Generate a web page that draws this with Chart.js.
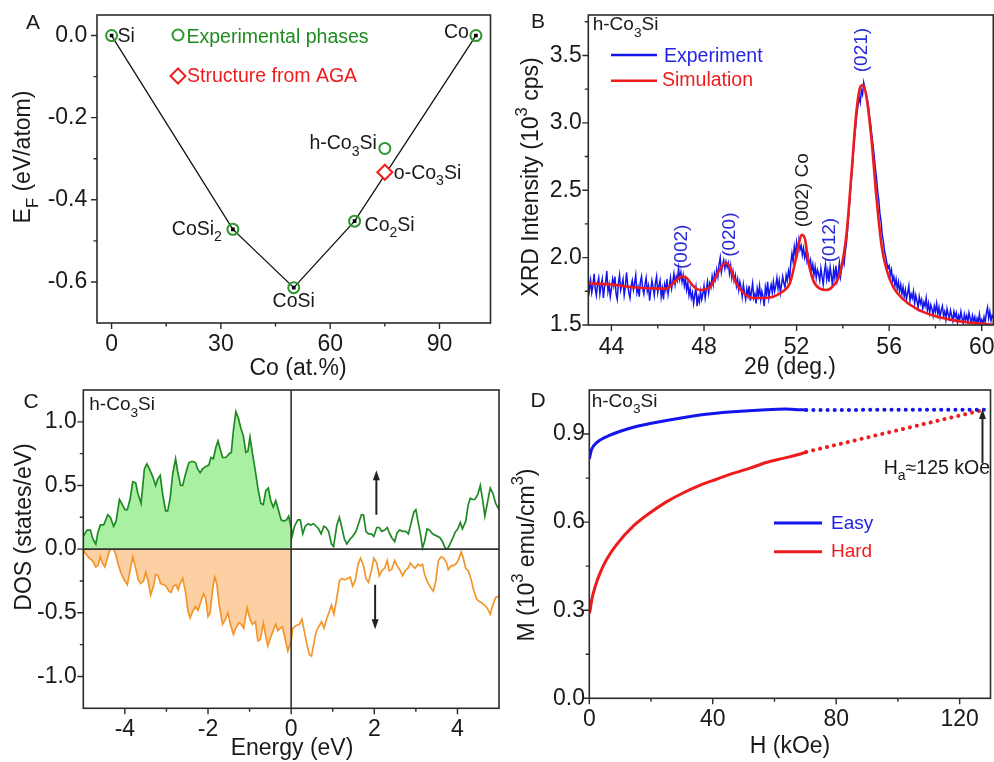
<!DOCTYPE html>
<html>
<head>
<meta charset="utf-8">
<script src="https://cdn.jsdelivr.net/npm/chart.js@4.4.0/dist/chart.umd.min.js"></script>
<style>
  body { margin: 0; background: #fff; width: 994px; height: 762px; position: relative; overflow: hidden; }
  canvas { position: absolute; }
  #phaseChart { left: 0; top: 0; }
  #xrdChart { left: 500px; top: 0; }
  #dosChart { left: 0; top: 382px; }
  #magChart { left: 500px; top: 382px; }
</style>
</head>
<body>
<canvas id="phaseChart" width="500" height="382"></canvas>
<canvas id="xrdChart" width="494" height="382"></canvas>
<canvas id="dosChart" width="500" height="380"></canvas>
<canvas id="magChart" width="494" height="380"></canvas>
<script>
const FONT = '"Liberation Sans", Arial, Helvetica, sans-serif';
const INK = '#1a1a1a';

// ---- A: formation energy vs Co content
const coContent = [0, 33.3, 50, 66.7, 100];
const formationEnergy = [0, -0.472, -0.614, -0.452, 0];
const co3siContent = [75];
const hexCo3siEnergy = [-0.275];
const orthoCo3siEnergy = [-0.333];
const phaseXMajor = [0, 30, 60, 90], phaseXMinor = [15, 45, 75];
const phaseYMajor = [0, -0.2, -0.4, -0.6], phaseYMinor = [-0.1, -0.3, -0.5];

// ---- B: XRD pattern (2theta in deg, intensity in 10^3 cps)
const scanAngle = [
  43.00, 43.05, 43.10, 43.15, 43.20, 43.25, 43.30, 43.35, 43.40, 43.45,
  43.50, 43.55, 43.60, 43.65, 43.70, 43.75, 43.80, 43.85, 43.90, 43.95,
  44.00, 44.05, 44.10, 44.15, 44.20, 44.25, 44.30, 44.35, 44.40, 44.45,
  44.50, 44.55, 44.60, 44.65, 44.70, 44.75, 44.80, 44.85, 44.90, 44.95,
  45.00, 45.05, 45.10, 45.15, 45.20, 45.25, 45.30, 45.35, 45.40, 45.45,
  45.50, 45.55, 45.60, 45.65, 45.70, 45.75, 45.80, 45.85, 45.90, 45.95,
  46.00, 46.05, 46.10, 46.15, 46.20, 46.25, 46.30, 46.35, 46.40, 46.45,
  46.50, 46.55, 46.60, 46.65, 46.70, 46.75, 46.80, 46.85, 46.90, 46.95,
  47.00, 47.05, 47.10, 47.15, 47.20, 47.25, 47.30, 47.35, 47.40, 47.45,
  47.50, 47.55, 47.60, 47.65, 47.70, 47.75, 47.80, 47.85, 47.90, 47.95,
  48.00, 48.05, 48.10, 48.15, 48.20, 48.25, 48.30, 48.35, 48.40, 48.45,
  48.50, 48.55, 48.60, 48.65, 48.70, 48.75, 48.80, 48.85, 48.90, 48.95,
  49.00, 49.05, 49.10, 49.15, 49.20, 49.25, 49.30, 49.35, 49.40, 49.45,
  49.50, 49.55, 49.60, 49.65, 49.70, 49.75, 49.80, 49.85, 49.90, 49.95,
  50.00, 50.05, 50.10, 50.15, 50.20, 50.25, 50.30, 50.35, 50.40, 50.45,
  50.50, 50.55, 50.60, 50.65, 50.70, 50.75, 50.80, 50.85, 50.90, 50.95,
  51.00, 51.05, 51.10, 51.15, 51.20, 51.25, 51.30, 51.35, 51.40, 51.45,
  51.50, 51.55, 51.60, 51.65, 51.70, 51.75, 51.80, 51.85, 51.90, 51.95,
  52.00, 52.05, 52.10, 52.15, 52.20, 52.25, 52.30, 52.35, 52.40, 52.45,
  52.50, 52.55, 52.60, 52.65, 52.70, 52.75, 52.80, 52.85, 52.90, 52.95,
  53.00, 53.05, 53.10, 53.15, 53.20, 53.25, 53.30, 53.35, 53.40, 53.45,
  53.50, 53.55, 53.60, 53.65, 53.70, 53.75, 53.80, 53.85, 53.90, 53.95,
  54.00, 54.05, 54.10, 54.15, 54.20, 54.25, 54.30, 54.35, 54.40, 54.45,
  54.50, 54.55, 54.60, 54.65, 54.70, 54.75, 54.80, 54.85, 54.90, 54.95,
  55.00, 55.05, 55.10, 55.15, 55.20, 55.25, 55.30, 55.35, 55.40, 55.45,
  55.50, 55.55, 55.60, 55.65, 55.70, 55.75, 55.80, 55.85, 55.90, 55.95,
  56.00, 56.05, 56.10, 56.15, 56.20, 56.25, 56.30, 56.35, 56.40, 56.45,
  56.50, 56.55, 56.60, 56.65, 56.70, 56.75, 56.80, 56.85, 56.90, 56.95,
  57.00, 57.05, 57.10, 57.15, 57.20, 57.25, 57.30, 57.35, 57.40, 57.45,
  57.50, 57.55, 57.60, 57.65, 57.70, 57.75, 57.80, 57.85, 57.90, 57.95,
  58.00, 58.05, 58.10, 58.15, 58.20, 58.25, 58.30, 58.35, 58.40, 58.45,
  58.50, 58.55, 58.60, 58.65, 58.70, 58.75, 58.80, 58.85, 58.90, 58.95,
  59.00, 59.05, 59.10, 59.15, 59.20, 59.25, 59.30, 59.35, 59.40, 59.45,
  59.50, 59.55, 59.60, 59.65, 59.70, 59.75, 59.80, 59.85, 59.90, 59.95,
  60.00, 60.05, 60.10, 60.15, 60.20, 60.25, 60.30, 60.35, 60.40, 60.45,
  60.50
];
const measuredCounts = [
  1.86, 1.76, 1.83, 1.74, 1.79, 1.88, 1.77, 1.72, 1.81, 1.85,
  1.73, 1.79, 1.84, 1.70, 1.78, 1.82, 1.90, 1.75, 1.80, 1.71,
  1.77, 1.84, 1.79, 1.86, 1.73, 1.69, 1.81, 1.87, 1.76, 1.80,
  1.84, 1.72, 1.78, 1.89, 1.80, 1.74, 1.70, 1.79, 1.83, 1.76,
  1.81, 1.87, 1.74, 1.78, 1.71, 1.82, 1.86, 1.77, 1.73, 1.80,
  1.85, 1.75, 1.79, 1.68, 1.76, 1.83, 1.78, 1.72, 1.81, 1.86,
  1.74, 1.79, 1.83, 1.71, 1.77, 1.69, 1.80, 1.76, 1.84, 1.73,
  1.79, 1.85, 1.77, 1.82, 1.88, 1.80, 1.86, 1.83, 1.92, 1.84,
  1.89, 1.82, 1.87, 1.79, 1.84, 1.76, 1.81, 1.72, 1.77, 1.70,
  1.74, 1.66, 1.72, 1.78, 1.64, 1.71, 1.67, 1.75, 1.69, 1.73,
  1.79, 1.70, 1.76, 1.82, 1.74, 1.81, 1.78, 1.86, 1.80, 1.88,
  1.84, 1.91, 1.86, 1.95, 2.00, 1.89, 1.94, 1.98, 1.92, 1.97,
  1.93, 1.96, 1.88, 1.94, 1.85, 1.90, 1.83, 1.87, 1.79, 1.84,
  1.76, 1.82, 1.78, 1.71, 1.80, 1.74, 1.69, 1.77, 1.72, 1.79,
  1.68, 1.75, 1.81, 1.70, 1.73, 1.66, 1.77, 1.72, 1.79, 1.69,
  1.75, 1.71, 1.64, 1.78, 1.73, 1.82, 1.70, 1.76, 1.80, 1.74,
  1.82, 1.75, 1.79, 1.85, 1.77, 1.83, 1.74, 1.80, 1.86, 1.81,
  1.78, 1.87, 1.83, 1.90, 1.85, 1.96, 2.03, 1.97, 2.08, 2.02,
  2.11, 2.04, 2.13, 2.06, 2.09, 2.02, 2.07, 2.00, 2.04, 1.97,
  2.01, 1.94, 1.98, 1.90, 1.95, 1.87, 1.93, 1.85, 1.91, 1.88,
  1.83, 1.92, 1.86, 1.80, 1.89, 1.95, 1.84, 1.90, 1.82, 1.93,
  1.87, 1.79, 1.91, 1.85, 1.94, 1.83, 1.89, 1.96, 1.86, 1.92,
  1.98, 1.95, 2.04, 2.10, 2.20, 2.31, 2.42, 2.55, 2.64, 2.77,
  2.88, 2.97, 3.06, 3.12, 3.19, 3.15, 3.24, 3.21, 3.30, 3.26,
  3.22, 3.18, 3.13, 3.05, 2.99, 2.91, 2.84, 2.76, 2.67, 2.60,
  2.50, 2.43, 2.33, 2.27, 2.17, 2.12, 2.05, 2.01, 1.96, 1.92,
  1.94, 1.87, 1.91, 1.83, 1.86, 1.79, 1.84, 1.77, 1.82, 1.75,
  1.80, 1.73, 1.78, 1.71, 1.76, 1.69, 1.74, 1.79, 1.68, 1.73,
  1.70, 1.75, 1.66, 1.72, 1.68, 1.63, 1.71, 1.66, 1.69, 1.62,
  1.67, 1.64, 1.70, 1.61, 1.66, 1.59, 1.65, 1.62, 1.57, 1.64,
  1.60, 1.66, 1.58, 1.63, 1.56, 1.61, 1.64, 1.57, 1.60, 1.54,
  1.62, 1.58, 1.55, 1.61, 1.57, 1.53, 1.60, 1.56, 1.59, 1.52,
  1.57, 1.54, 1.60, 1.55, 1.51, 1.58, 1.54, 1.57, 1.52, 1.59,
  1.55, 1.51, 1.57, 1.53, 1.56, 1.50, 1.55, 1.52, 1.58, 1.51,
  1.54, 1.51, 1.56, 1.52, 1.59, 1.63, 1.55, 1.60, 1.53, 1.57,
  1.55
];
const simAngle = [
  43.0, 44.0, 44.94, 45.94, 46.38, 46.67, 47.03, 47.24, 47.53, 47.82,
  48.25, 48.61, 48.80, 48.97, 49.12, 49.33, 49.69, 50.13, 50.56, 50.99,
  51.42, 51.71, 51.93, 52.07, 52.22, 52.36, 52.50, 52.72, 53.01, 53.30,
  53.58, 53.87, 54.16, 54.37, 54.59, 54.76, 54.88, 55.03, 55.24, 55.46,
  55.68, 55.89, 56.18, 56.61, 57.19, 57.91, 58.63, 59.35, 60.0, 60.5
];
const simCounts = [
  1.81, 1.80, 1.78, 1.77, 1.77, 1.81, 1.86, 1.85, 1.79, 1.76,
  1.78, 1.89, 1.94, 1.96, 1.93, 1.83, 1.74, 1.70, 1.70, 1.71,
  1.75, 1.81, 1.96, 2.08, 2.17, 2.14, 1.98, 1.83, 1.77, 1.76,
  1.79, 1.88, 2.18, 2.62, 3.09, 3.27, 3.28, 3.18, 2.87, 2.43,
  2.08, 1.91, 1.78, 1.69, 1.62, 1.57, 1.54, 1.52, 1.51, 1.50
];
const peakAngle = [47.03, 49.1, 52.25, 53.45, 54.83];
const peakLabelLevel = [2.08, 2.17, 2.50, 2.13, 3.54];
const peakIndex = ['(002)', '(020)', '(002) Co', '(012)', '(021)'];
const xrdXMajor = [44, 48, 52, 56, 60], xrdXMinor = [46, 50, 54, 58];
const xrdYMajor = [1.5, 2.0, 2.5, 3.0, 3.5], xrdYMinor = [1.75, 2.25, 2.75, 3.25, 3.75];

// ---- C: spin-resolved DOS (eV, states/eV)
const upEnergy = [
  -5.00, -4.91, -4.83, -4.77, -4.70, -4.65, -4.59, -4.51, -4.41, -4.35,
  -4.27, -4.21, -4.13, -4.06, -4.00, -3.94, -3.87, -3.81, -3.74, -3.69,
  -3.61, -3.53, -3.47, -3.41, -3.33, -3.26, -3.21, -3.15, -3.09, -3.02,
  -2.97, -2.91, -2.85, -2.78, -2.73, -2.66, -2.61, -2.54, -2.46, -2.38,
  -2.30, -2.25, -2.19, -2.13, -2.05, -1.98, -1.93, -1.87, -1.81, -1.76,
  -1.71, -1.65, -1.57, -1.49, -1.44, -1.39, -1.33, -1.27, -1.21, -1.15,
  -1.09, -1.04, -0.99, -0.93, -0.86, -0.80, -0.73, -0.67, -0.61, -0.55,
  -0.49, -0.43, -0.37, -0.30, -0.24, -0.18, -0.11, -0.06, 0.00,
  0.03, 0.08, 0.16, 0.22, 0.28, 0.34, 0.41, 0.47, 0.54, 0.60,
  0.66, 0.72, 0.79, 0.84, 0.90, 0.97, 1.02, 1.10, 1.16, 1.22,
  1.28, 1.34, 1.42, 1.48, 1.56, 1.64, 1.69, 1.74, 1.80, 1.86,
  1.93, 1.99, 2.06, 2.12, 2.18, 2.25, 2.31, 2.36, 2.42, 2.49,
  2.55, 2.61, 2.68, 2.76, 2.82, 2.89, 2.95, 3.00, 3.05, 3.11,
  3.16, 3.21, 3.27, 3.33, 3.40, 3.46, 3.53, 3.58, 3.64, 3.70,
  3.76, 3.82, 3.88, 3.94, 4.01, 4.07, 4.12, 4.20, 4.26, 4.31,
  4.36, 4.42, 4.49, 4.55, 4.60, 4.66, 4.73, 4.79, 4.85, 4.92, 5.00
];
const upDos = [
  0.10, 0.15, 0.15, 0.08, 0.04, 0.13, 0.19, 0.19, 0.27, 0.25,
  0.18, 0.22, 0.39, 0.35, 0.31, 0.31, 0.40, 0.53, 0.52, 0.44,
  0.36, 0.63, 0.67, 0.63, 0.57, 0.50, 0.55, 0.58, 0.43, 0.30,
  0.30, 0.40, 0.59, 0.71, 0.61, 0.50, 0.50, 0.59, 0.68, 0.69,
  0.68, 0.63, 0.60, 0.63, 0.65, 0.66, 0.72, 0.71, 0.80, 0.85,
  0.79, 0.72, 0.72, 0.75, 0.76, 0.93, 1.08, 1.03, 0.95, 0.89,
  0.76, 0.77, 0.88, 0.75, 0.61, 0.48, 0.36, 0.35, 0.46, 0.48,
  0.38, 0.33, 0.38, 0.30, 0.23, 0.22, 0.23, 0.26, 0.17,
  0.11, 0.18, 0.23, 0.23, 0.12, 0.18, 0.20, 0.19, 0.20, 0.18,
  0.16, 0.12, 0.18, 0.17, 0.14, 0.04, 0.02, 0.19, 0.25, 0.17,
  0.08, 0.04, 0.08, 0.10, 0.14, 0.22, 0.27, 0.27, 0.14, 0.12,
  0.12, 0.10, 0.17, 0.17, 0.14, 0.15, 0.17, 0.13, 0.09, 0.06,
  0.13, 0.15, 0.14, 0.14, 0.12, 0.21, 0.29, 0.31, 0.22, 0.12,
  0.01, 0.06, 0.16, 0.15, 0.12, 0.11, 0.10, 0.09, 0.06, 0.01,
  0.00, 0.04, 0.08, 0.13, 0.16, 0.21, 0.16, 0.22, 0.35, 0.40,
  0.39, 0.39, 0.43, 0.50, 0.40, 0.26, 0.38, 0.48, 0.44, 0.36, 0.31
];
const downEnergy = [
  -5.00, -4.93, -4.86, -4.78, -4.70, -4.65, -4.59, -4.54, -4.48, -4.42,
  -4.37, -4.32, -4.27, -4.22, -4.16, -4.09, -4.02, -3.94, -3.87, -3.81,
  -3.74, -3.68, -3.62, -3.55, -3.50, -3.44, -3.38, -3.31, -3.26, -3.20,
  -3.14, -3.07, -3.01, -2.94, -2.89, -2.83, -2.77, -2.72, -2.67, -2.61,
  -2.54, -2.48, -2.43, -2.37, -2.30, -2.24, -2.18, -2.11, -2.06, -2.00,
  -1.95, -1.89, -1.84, -1.79, -1.73, -1.65, -1.58, -1.52, -1.46, -1.39,
  -1.33, -1.26, -1.20, -1.14, -1.06, -0.99, -0.93, -0.86, -0.80, -0.74,
  -0.67, -0.62, -0.56, -0.50, -0.42, -0.37, -0.32, -0.26, -0.21, -0.14,
  -0.08, -0.03, 0.00,
  0.04, 0.12, 0.20, 0.26, 0.32, 0.38, 0.44, 0.49, 0.54, 0.60,
  0.66, 0.73, 0.79, 0.86, 0.92, 0.97, 1.03, 1.10, 1.16, 1.22,
  1.29, 1.35, 1.42, 1.48, 1.54, 1.61, 1.67, 1.74, 1.80, 1.86,
  1.93, 1.99, 2.06, 2.12, 2.18, 2.25, 2.31, 2.36, 2.42, 2.49,
  2.55, 2.61, 2.68, 2.74, 2.81, 2.87, 2.92, 2.98, 3.05, 3.11,
  3.16, 3.21, 3.27, 3.35, 3.42, 3.48, 3.54, 3.61, 3.67, 3.74,
  3.78, 3.85, 3.91, 3.98, 4.04, 4.09, 4.14, 4.20, 4.26, 4.33,
  4.39, 4.46, 4.52, 4.58, 4.65, 4.71, 4.79, 4.85, 4.92, 5.00
];
const downDos = [
  -0.01, -0.04, -0.07, -0.09, -0.14, -0.13, -0.06, -0.11, -0.14, -0.07,
  -0.01, 0.00, 0.00, -0.04, -0.12, -0.19, -0.24, -0.28, -0.16, -0.06,
  -0.15, -0.24, -0.27, -0.25, -0.18, -0.25, -0.36, -0.29, -0.20, -0.21,
  -0.27, -0.28, -0.29, -0.33, -0.34, -0.29, -0.28, -0.32, -0.27, -0.23,
  -0.34, -0.49, -0.54, -0.49, -0.45, -0.48, -0.42, -0.35, -0.38, -0.53,
  -0.50, -0.32, -0.22, -0.27, -0.44, -0.59, -0.55, -0.50, -0.59, -0.67,
  -0.62, -0.58, -0.59, -0.62, -0.46, -0.55, -0.59, -0.57, -0.72, -0.71,
  -0.58, -0.67, -0.76, -0.70, -0.63, -0.59, -0.64, -0.62, -0.61, -0.71,
  -0.80, -0.75, -0.72,
  -0.62, -0.60, -0.59, -0.55, -0.65, -0.75, -0.83, -0.84, -0.75, -0.65,
  -0.61, -0.57, -0.62, -0.54, -0.49, -0.44, -0.51, -0.38, -0.25, -0.23,
  -0.24, -0.23, -0.22, -0.29, -0.25, -0.12, -0.07, -0.13, -0.23, -0.26,
  -0.17, -0.07, -0.11, -0.21, -0.17, -0.15, -0.09, -0.17, -0.16, -0.09,
  -0.13, -0.16, -0.21, -0.17, -0.15, -0.11, -0.13, -0.15, -0.12, -0.13,
  -0.12, -0.20, -0.25, -0.30, -0.33, -0.25, -0.09, -0.06, -0.07, -0.11,
  -0.16, -0.13, -0.13, -0.11, -0.07, -0.02, -0.07, -0.15, -0.17, -0.24,
  -0.32, -0.39, -0.41, -0.42, -0.44, -0.46, -0.51, -0.44, -0.38, -0.37
];
const dosXMajor = [-4, -2, 0, 2, 4], dosXMinor = [-3, -1, 1, 3];
const dosYMajor = [-1, -0.5, 0, 0.5, 1], dosYMinor = [-0.75, -0.25, 0.25, 0.75];

// ---- D: magnetization curves (kOe, 10^3 emu/cm^3)
const easyField = [0, 0.3, 0.8, 2.4, 6.7, 14.3, 25, 35.8, 46.5, 57.3, 63.7, 68.1, 70.3];
const easyM = [0.815, 0.83, 0.849, 0.871, 0.896, 0.923, 0.946, 0.965, 0.976, 0.983, 0.985, 0.983, 0.982];
const hardField = [0, 0.2, 0.8, 1.9, 3.5, 5.6, 8.9, 14.3, 19.7, 25, 30.5, 35.8, 41.2, 46.5, 51.9, 57.3, 62.7, 68.1, 70.3];
const hardM = [0.29, 0.296, 0.336, 0.38, 0.427, 0.473, 0.524, 0.587, 0.632, 0.669, 0.70, 0.725, 0.746, 0.766, 0.783, 0.803, 0.817, 0.831, 0.839];
const extField = [70.3, 128];
const easyExtM = [0.982, 0.983];
const hardExtM = [0.839, 0.983];
const anisotropyField = 127.4;
const magXMajor = [0, 40, 80, 120], magXMinor = [20, 60, 100];
const magYMajor = [0, 0.3, 0.6, 0.9], magYMinor = [0.15, 0.45, 0.75];

// ---------- helpers
function points(xs, ys) {
  return xs.map((v, i) => ({x: v, y: ys[i]}));
}

// parts: [text, shift], shift 1 = subscript, -1 = superscript
function text(ctx, parts, x, y, size, color, align) {
  ctx.save();
  const fontFor = s => (s ? size * 0.72 : size) + 'px ' + FONT;
  const widths = parts.map(p => { ctx.font = fontFor(p[1]); return ctx.measureText(p[0]).width; });
  const total = widths.reduce((a, b) => a + b, 0);
  let cx = align === 'center' ? x - total / 2 : align === 'right' ? x - total : x;
  ctx.fillStyle = color;
  ctx.textAlign = 'left';
  ctx.textBaseline = 'middle';
  parts.forEach((p, i) => {
    ctx.font = fontFor(p[1]);
    const dy = p[1] === 1 ? size * 0.42 : p[1] === -1 ? -size * 0.4 : 0;
    ctx.fillText(p[0], cx, y + dy);
    cx += widths[i];
  });
  ctx.restore();
}

function vtext(ctx, parts, cx, cy, size, color) {
  ctx.save();
  ctx.translate(cx, cy);
  ctx.rotate(-Math.PI / 2);
  text(ctx, parts, 0, 0, size, color, 'center');
  ctx.restore();
}

function arrow(ctx, x, y0, y1) {
  const dir = Math.sign(y1 - y0);
  ctx.save();
  ctx.strokeStyle = ctx.fillStyle = '#222';
  ctx.lineWidth = 2;
  ctx.beginPath();
  ctx.moveTo(x, y0);
  ctx.lineTo(x, y1 - dir * 8);
  ctx.stroke();
  ctx.beginPath();
  ctx.moveTo(x, y1);
  ctx.lineTo(x - 3.5, y1 - dir * 10);
  ctx.lineTo(x + 3.5, y1 - dir * 10);
  ctx.closePath();
  ctx.fill();
  ctx.restore();
}

function legendLine(ctx, x0, x1, y, color, width) {
  ctx.save();
  ctx.strokeStyle = color;
  ctx.lineWidth = width;
  ctx.beginPath();
  ctx.moveTo(x0, y);
  ctx.lineTo(x1, y);
  ctx.stroke();
  ctx.restore();
}

// box around the plot + outward tick marks
const axesFrame = {
  id: 'axesFrame',
  afterDatasetsDraw(chart, args, o) {
    const {ctx, chartArea: a, scales: {x, y}} = chart;
    ctx.save();
    ctx.strokeStyle = '#2b2b2b';
    ctx.lineWidth = 1.6;
    ctx.strokeRect(a.left, a.top, a.right - a.left, a.bottom - a.top);
    ctx.lineWidth = 1.4;
    ctx.beginPath();
    const mark = (vals, len, horiz) => vals.forEach(v => {
      if (horiz) {
        const px = x.getPixelForValue(v);
        ctx.moveTo(px, a.bottom);
        ctx.lineTo(px, a.bottom + len);
      } else {
        const py = y.getPixelForValue(v);
        ctx.moveTo(a.left, py);
        ctx.lineTo(a.left - len, py);
      }
    });
    mark(o.xMajor, 6, true);
    mark(o.xMinor, 3.5, true);
    mark(o.yMajor, 6, false);
    mark(o.yMinor, 3.5, false);
    ctx.stroke();
    ctx.restore();
  }
};

function axis(side, min, max, major, digits, size, pad) {
  return {
    type: 'linear', position: side, min: min, max: max,
    grid: {display: false, drawTicks: false},
    border: {display: false},
    ticks: {
      padding: pad, color: INK, autoSkip: false, maxRotation: 0,
      font: {family: FONT, size: 23},
      callback: v => v.toFixed(digits)
    },
    afterBuildTicks: s => { s.ticks = major.map(v => ({value: v})); },
    afterFit: s => {
      if (side === 'bottom') s.height = size; else s.width = size;
      s.paddingTop = s.paddingBottom = s.paddingLeft = s.paddingRight = 0;
    }
  };
}

function options(top, right, xAxis, yAxis, ticks) {
  return {
    responsive: false,
    animation: false,
    events: [],
    layout: {padding: {top: top, right: right, left: 0, bottom: 0}},
    plugins: {legend: {display: false}, tooltip: {enabled: false}, axesFrame: ticks},
    scales: {x: xAxis, y: yAxis}
  };
}

const GREEN = '#2e962e';
const RED = '#ee1c1c';
const BLUE = '#1414ee';

// ---------- A
new Chart(document.getElementById('phaseChart'), {
  type: 'scatter',
  data: {
    datasets: [{
      data: points(coContent, formationEnergy),
      pointStyle: 'rect', pointRadius: 2.6, pointBackgroundColor: '#000', pointBorderWidth: 0,
      order: 0
    }, {
      data: points(coContent, formationEnergy),
      showLine: true, borderColor: '#111', borderWidth: 1.3,
      pointStyle: 'circle', pointRadius: 5.5, pointBorderColor: GREEN, pointBorderWidth: 2,
      pointBackgroundColor: 'rgba(0,0,0,0)',
      order: 2
    }, {
      data: points(co3siContent, hexCo3siEnergy),
      pointStyle: 'circle', pointRadius: 5.5, pointBorderColor: GREEN, pointBorderWidth: 2,
      pointBackgroundColor: 'rgba(0,0,0,0)',
      order: 2
    }, {
      data: points(co3siContent, orthoCo3siEnergy),
      pointStyle: 'rectRot', pointRadius: 7.5, pointBorderColor: RED, pointBorderWidth: 2,
      pointBackgroundColor: '#fff',
      order: 1
    }]
  },
  options: options(15, 1,
    axis('bottom', -4, 104, phaseXMajor, 0, 59, 8),
    axis('left', -0.70, 0.05, phaseYMajor, 1, 97, 9.7),
    {xMajor: phaseXMajor, xMinor: phaseXMinor, yMajor: phaseYMajor, yMinor: phaseYMinor}),
  plugins: [axesFrame, {
    id: 'phaseLabels',
    afterDraw(chart) {
      const {ctx, scales: {x, y}} = chart;
      const px = i => x.getPixelForValue(coContent[i]);
      const py = i => y.getPixelForValue(formationEnergy[i]);
      const s = 19.5;
      text(ctx, [['A', 0]], 33, 23, 21, INK, 'center');
      text(ctx, [['Si', 0]], px(0) + 6, py(0) + 1.5, s, INK, 'left');
      text(ctx, [['CoSi', 0], ['2', 1]], px(1) - 11, py(1), s, INK, 'right');
      text(ctx, [['CoSi', 0]], px(2), py(2) + 14, s, INK, 'center');
      text(ctx, [['Co', 0], ['2', 1], ['Si', 0]], px(3) + 10, py(3) + 4, s, INK, 'left');
      text(ctx, [['Co', 0]], px(4) - 7, py(4) - 3, s, INK, 'right');
      const cx = x.getPixelForValue(co3siContent[0]);
      text(ctx, [['h-Co', 0], ['3', 1], ['Si', 0]], cx - 8, y.getPixelForValue(hexCo3siEnergy[0]) - 5, s, INK, 'right');
      text(ctx, [['o-Co', 0], ['3', 1], ['Si', 0]], cx + 9, y.getPixelForValue(orthoCo3siEnergy[0]) + 1, s, INK, 'left');

      // legend
      ctx.save();
      ctx.lineWidth = 2;
      ctx.strokeStyle = GREEN;
      ctx.beginPath();
      ctx.arc(178, 35, 5.5, 0, Math.PI * 2);
      ctx.stroke();
      ctx.strokeStyle = RED;
      ctx.beginPath();
      ctx.moveTo(178, 68.5); ctx.lineTo(185.5, 76); ctx.lineTo(178, 83.5); ctx.lineTo(170.5, 76);
      ctx.closePath();
      ctx.stroke();
      ctx.restore();
      text(ctx, [['Experimental phases', 0]], 186.5, 37.5, s, '#1f8c1f', 'left');
      text(ctx, [['Structure from AGA', 0]], 187, 76.5, s, RED, 'left');

      text(ctx, [['Co (at.%)', 0]], 298, 369, 23, INK, 'center');
      vtext(ctx, [['E', 0], ['F', 1], [' (eV/atom)', 0]], 24, 157, 23, INK);
    }
  }]
});

// ---------- B
new Chart(document.getElementById('xrdChart'), {
  type: 'scatter',
  data: {
    datasets: [{
      data: points(simAngle, simCounts),
      showLine: true, borderColor: RED, borderWidth: 2.6, pointRadius: 0,
      cubicInterpolationMode: 'monotone', order: 0
    }, {
      data: points(scanAngle, measuredCounts),
      showLine: true, borderColor: BLUE, borderWidth: 1.5, pointRadius: 0,
      tension: 0, order: 1
    }]
  },
  options: options(15, 0.7,
    axis('bottom', 43, 60.5, xrdXMajor, 0, 57, 8.4),
    axis('left', 1.5, 3.8, xrdYMajor, 1, 88.3, 6.6),
    {xMajor: xrdXMajor, xMinor: xrdXMinor, yMajor: xrdYMajor, yMinor: xrdYMinor}),
  plugins: [axesFrame, {
    id: 'xrdLabels',
    afterDraw(chart) {
      const {ctx, scales: {x, y}} = chart;
      text(ctx, [['B', 0]], 38, 22.5, 21, INK, 'center');
      text(ctx, [['h-Co', 0], ['3', 1], ['Si', 0]], 92.7, 25, 19, INK, 'left');
      legendLine(ctx, 111, 157, 55, BLUE, 2.5);
      text(ctx, [['Experiment', 0]], 164, 57, 19.5, '#2424e6', 'left');
      legendLine(ctx, 111, 157, 80.7, RED, 2.5);
      text(ctx, [['Simulation', 0]], 162, 81, 19.5, RED, 'left');
      peakIndex.forEach((label, i) => {
        const color = label.indexOf('Co') >= 0 ? INK : '#2a2ad8';
        vtext(ctx, [[label, 0]], x.getPixelForValue(peakAngle[i]), y.getPixelForValue(peakLabelLevel[i]), 19, color);
      });
      text(ctx, [['2\u03b8 (deg.)', 0]], 290, 368, 23, INK, 'center');
      vtext(ctx, [['XRD Intensity (10', 0], ['3', -1], [' cps)', 0]], 31.7, 177, 23, INK);
    }
  }]
});

// ---------- C
const upLeft = points(upEnergy, upDos).filter(p => p.x <= 0);
const upRight = points(upEnergy, upDos).filter(p => p.x >= 0);
const downLeft = points(downEnergy, downDos).filter(p => p.x <= 0);
const downRight = points(downEnergy, downDos).filter(p => p.x >= 0);
const DOS_GREEN = '#1f8a24', DOS_ORANGE = '#f2962a';

new Chart(document.getElementById('dosChart'), {
  type: 'scatter',
  data: {
    datasets: [
      {data: upLeft, showLine: true, fill: 'origin', backgroundColor: '#a9f0a2', borderColor: DOS_GREEN, borderWidth: 1.7, pointRadius: 0},
      {data: upRight, showLine: true, borderColor: DOS_GREEN, borderWidth: 1.7, pointRadius: 0},
      {data: downLeft, showLine: true, fill: 'origin', backgroundColor: '#fdd0a4', borderColor: DOS_ORANGE, borderWidth: 1.7, pointRadius: 0},
      {data: downRight, showLine: true, borderColor: DOS_ORANGE, borderWidth: 1.7, pointRadius: 0}
    ]
  },
  options: options(8, 1,
    axis('bottom', -5, 5, dosXMajor, 0, 53.7, 7.1),
    axis('left', -1.25, 1.25, dosYMajor, 1, 83.3, 6.6),
    {xMajor: dosXMajor, xMinor: dosXMinor, yMajor: dosYMajor, yMinor: dosYMinor}),
  plugins: [{
    id: 'zeroLines',
    afterDatasetsDraw(chart) {
      const {ctx, chartArea: a, scales: {x, y}} = chart;
      const x0 = x.getPixelForValue(0), y0 = y.getPixelForValue(0);
      ctx.save();
      ctx.strokeStyle = '#333';
      ctx.lineWidth = 1.6;
      ctx.beginPath();
      ctx.moveTo(a.left, y0); ctx.lineTo(a.right, y0);
      ctx.moveTo(x0, a.top); ctx.lineTo(x0, a.bottom);
      ctx.stroke();
      ctx.restore();
    }
  }, axesFrame, {
    id: 'dosLabels',
    afterDraw(chart) {
      const {ctx, scales: {x, y}} = chart;
      arrow(ctx, x.getPixelForValue(2.05), y.getPixelForValue(0.27), y.getPixelForValue(0.62));
      arrow(ctx, x.getPixelForValue(2.02), y.getPixelForValue(-0.28), y.getPixelForValue(-0.63));
      text(ctx, [['C', 0]], 31, 20.5, 21, INK, 'center');
      text(ctx, [['h-Co', 0], ['3', 1], ['Si', 0]], 89.3, 23, 19, INK, 'left');
      text(ctx, [['Energy (eV)', 0]], 292, 367, 23, INK, 'center');
      vtext(ctx, [['DOS (states/eV)', 0]], 25, 145, 23, INK);
    }
  }]
});

// ---------- D
new Chart(document.getElementById('magChart'), {
  type: 'scatter',
  data: {
    datasets: [
      {data: points(easyField, easyM), showLine: true, borderColor: BLUE, borderWidth: 3, pointRadius: 0, cubicInterpolationMode: 'monotone'},
      {data: points(hardField, hardM), showLine: true, borderColor: RED, borderWidth: 3, pointRadius: 0, cubicInterpolationMode: 'monotone'},
      {data: points(extField, easyExtM), showLine: true, borderColor: BLUE, borderWidth: 4, borderDash: [0.1, 7], borderCapStyle: 'round', pointRadius: 0},
      {data: points(extField, hardExtM), showLine: true, borderColor: RED, borderWidth: 4, borderDash: [0.1, 7], borderCapStyle: 'round', pointRadius: 0}
    ]
  },
  options: options(8, 3.5,
    axis('bottom', 0, 130, magXMajor, 0, 63.7, 7.1),
    axis('left', 0, 1.05, magYMajor, 1, 89.3, 4.3),
    {xMajor: magXMajor, xMinor: magXMinor, yMajor: magYMajor, yMinor: magYMinor}),
  plugins: [axesFrame, {
    id: 'magLabels',
    afterDraw(chart) {
      const {ctx, scales: {x, y}} = chart;
      const ax = x.getPixelForValue(anisotropyField);
      arrow(ctx, ax, y.getPixelForValue(0.80), y.getPixelForValue(0.985));
      text(ctx, [['H', 0], ['a', 1], ['\u2248125 kOe', 0]], 490, 86.3, 19.5, INK, 'right');
      text(ctx, [['D', 0]], 38, 19.7, 21, INK, 'center');
      text(ctx, [['h-Co', 0], ['3', 1], ['Si', 0]], 91.7, 19.7, 19, INK, 'left');
      legendLine(ctx, 274, 322, 141, BLUE, 3);
      text(ctx, [['Easy', 0]], 331, 142, 19, '#2020e6', 'left');
      legendLine(ctx, 274, 322, 169.7, RED, 3);
      text(ctx, [['Hard', 0]], 331, 170, 19, RED, 'left');
      text(ctx, [['H (kOe)', 0]], 290, 365, 23, INK, 'center');
      vtext(ctx, [['M (10', 0], ['3', -1], [' emu/cm', 0], ['3', -1], [')', 0]], 28, 173, 23, INK);
    }
  }]
});
</script>
</body>
</html>
